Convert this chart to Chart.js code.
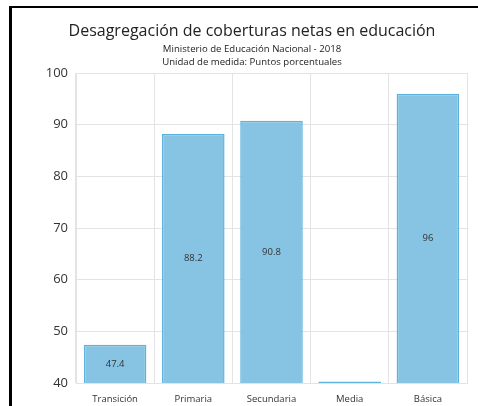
<!DOCTYPE html>
<html>
<head>
<meta charset="utf-8">
<script src="https://cdn.jsdelivr.net/npm/chart.js@4/dist/chart.umd.min.js"></script>
<style>
  html, body { margin: 0; padding: 0; background: #fff; overflow: hidden; }
  #marco { position: absolute; left: 9px; top: 6px; width: 480px; height: 410px;
           border-left: 3px solid #000; border-top: 2px solid #000; }
  #grafico { position: absolute; left: 0; top: 0; }
</style>
</head>
<body>
<div id="marco"></div>
<canvas id="grafico" width="478" height="406"></canvas>
<script>
const categorias = ['Transición', 'Primaria', 'Secundaria', 'Media', 'Básica'];
const coberturas = [47.4, 88.2, 90.8, 40.3, 96];
const ticksY     = [40, 50, 60, 70, 80, 90, 100];

const titulo    = 'Desagregación de coberturas netas en educación';
const subtitulo = ['Ministerio de Educación Nacional - 2018', 'Unidad de medida: Puntos porcentuales'];

// etiqueta del valor en el centro de la parte visible de cada barra
const etiquetasBarras = {
    id: 'etiquetasBarras',
    afterDatasetsDraw(chart) {
        const ctx = chart.ctx;
        const meta = chart.getDatasetMeta(0);
        const fondo = chart.chartArea.bottom;
        ctx.save();
        ctx.font = '9.5px "Open Sans"';
        ctx.fillStyle = '#333';
        ctx.textAlign = 'center';
        ctx.textBaseline = 'middle';
        meta.data.forEach((barra, i) => {
            const { x, y } = barra.getProps(['x', 'y'], true);
            if (fondo - y < 16) return;
            ctx.fillText(String(coberturas[i]), x, (y + fondo) / 2);
        });
        ctx.restore();
    }
};

new Chart(document.getElementById('grafico').getContext('2d'), {
    type: 'bar',
    data: {
        labels: categorias,
        datasets: [{
            data: coberturas,
            backgroundColor: '#87c4e3',
            borderColor: '#5db3dc',
            borderWidth: 1.5,
            categoryPercentage: 1,
            barPercentage: 0.8
        }]
    },
    plugins: [etiquetasBarras],
    options: {
        responsive: false, animation: false,
        layout: { padding: { left: 37, right: 11, top: 0, bottom: 0 } },
        plugins: {
            legend: { display: false },
            tooltip: { enabled: false },
            title: {
                display: true, text: titulo, color: '#222',
                font: { family: 'Open Sans', size: 16, weight: 'normal', lineHeight: 1.2 },
                padding: { top: 22, bottom: 1 }
            },
            subtitle: {
                display: true, text: subtitulo, color: '#222',
                font: { family: 'Open Sans', size: 9.6, weight: 'normal', lineHeight: 1.35 },
                padding: { top: 1, bottom: 4 }
            }
        },
        scales: {
            x: {
                afterFit(escala) { escala.height = 23; },
                grid: { color: '#e3e3e3', drawTicks: false },
                border: { color: '#e3e3e3' },
                ticks: { color: '#333', font: { family: 'Open Sans', size: 9.5 }, padding: 11, maxRotation: 0 }
            },
            y: {
                min: 40, max: 100,
                afterFit(escala) { escala.width = 39; },
                afterBuildTicks(escala) { escala.ticks = ticksY.map(v => ({ value: v })); },
                grid: { color: '#e3e3e3', drawTicks: false },
                border: { color: '#e3e3e3' },
                ticks: { color: '#333', font: { family: 'Open Sans', size: 13 }, padding: 8 }
            }
        }
    }
});
</script>
</body>
</html>
